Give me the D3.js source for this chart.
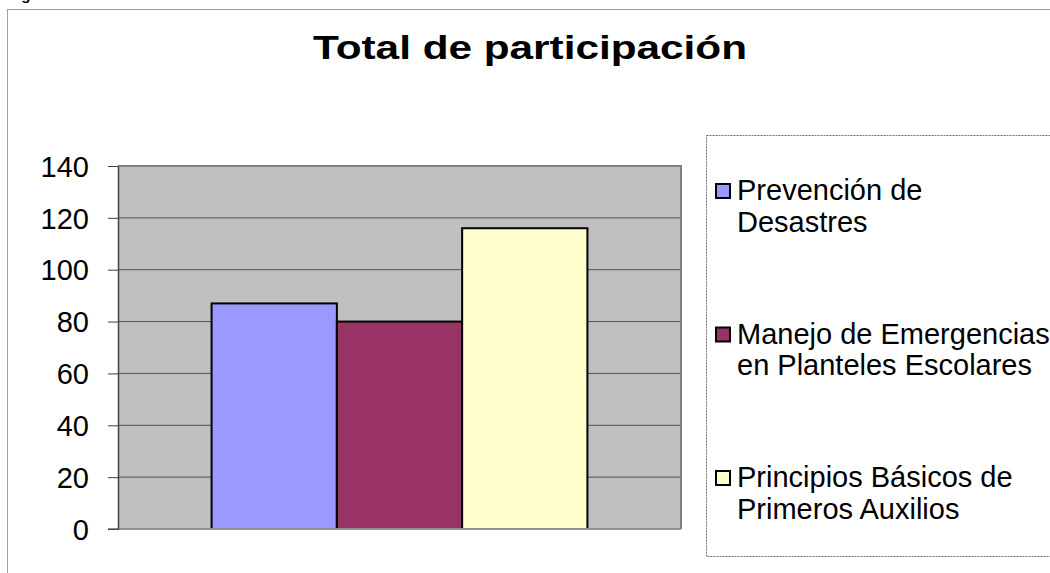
<!DOCTYPE html>
<html>
<head>
<meta charset="utf-8">
<script src="https://cdn.jsdelivr.net/npm/d3@7"></script>
<style>
  body { margin: 0; background: #fff; }
  svg { display: block; font-family: Arial, "Liberation Sans", sans-serif; }
</style>
</head>
<body>
<script>
let width = 1050;
let height = 573;

// data
let categories = [""];
let series = ["Prevención de Desastres", "Manejo de Emergencias en Planteles Escolares", "Principios Básicos de Primeros Auxilios"];
let values = [87, 80, 116];
let legendLines = [["Prevención de", "Desastres"], ["Manejo de Emergencias", "en Planteles Escolares"], ["Principios Básicos de", "Primeros Auxilios"]];
let colors = ["#9999FF", "#993366", "#FFFFCC"];
let yTicks = [0, 20, 40, 60, 80, 100, 120, 140];

let svg = d3.select("body")
    .append("svg")
    .attr("width", width)
    .attr("height", height);

// caption above the chart, cut off by the page edge (only descenders show)
svg.append("text")
    .attr("x", 8)
    .attr("y", 0)
    .attr("font-size", 15)
    .attr("font-weight", "bold")
    .text("Figura");

// outer chart frame
svg.append("rect")
    .attr("x", 7.5)
    .attr("y", 9.5)
    .attr("width", 1100)
    .attr("height", 700)
    .attr("fill", "none")
    .attr("stroke", "#a0a0a0")
    .attr("stroke-width", 1);

svg.append("text")
    .attr("x", 530)
    .attr("y", 59)
    .attr("text-anchor", "middle")
    .attr("font-size", 34)
    .attr("font-weight", "bold")
    .attr("textLength", 434)
    .attr("lengthAdjust", "spacingAndGlyphs")
    .text("Total de participación");

let plot = { left: 118, right: 681, top: 166, bottom: 529 };

let y = d3.scaleLinear()
    .domain([0, 140])
    .range([plot.bottom, plot.top]);

let x0 = d3.scaleBand()
    .domain(categories)
    .range([plot.left, plot.right])
    .paddingOuter(0.249);

let x1 = d3.scaleBand()
    .domain(series)
    .range([0, x0.bandwidth()]);

// plot background
svg.append("rect")
    .attr("x", plot.left)
    .attr("y", plot.top)
    .attr("width", plot.right - plot.left)
    .attr("height", plot.bottom - plot.top)
    .attr("fill", "#C0C0C0");

// gridlines
svg.append("g")
    .selectAll("line")
    .data(yTicks.filter(d => d > 0 && d < 140))
    .enter().append("line")
    .attr("x1", plot.left)
    .attr("x2", plot.right)
    .attr("y1", d => y(d))
    .attr("y2", d => y(d))
    .attr("stroke", "#505050")
    .attr("stroke-width", 1);

// top and right border
svg.append("path")
    .attr("d", `M${plot.left},${plot.top}H${plot.right}V${plot.bottom}`)
    .attr("fill", "none")
    .attr("stroke", "#808080")
    .attr("stroke-width", 2);

// bars
svg.append("g")
    .selectAll("rect")
    .data(series.map((s, i) => ({ s, v: values[i], c: colors[i] })))
    .enter().append("rect")
    .attr("x", d => x0(categories[0]) + x1(d.s))
    .attr("y", d => y(d.v))
    .attr("width", x1.bandwidth())
    .attr("height", d => y(0) - y(d.v))
    .attr("fill", d => d.c)
    .attr("stroke", "#000")
    .attr("stroke-width", 2);

// bottom axis line
svg.append("line")
    .attr("x1", plot.left - 10)
    .attr("x2", plot.right)
    .attr("y1", plot.bottom)
    .attr("y2", plot.bottom)
    .attr("stroke", "#909090")
    .attr("stroke-width", 2);

// y axis
let yAxis = d3.axisLeft(y)
    .tickValues(yTicks)
    .tickSize(10)
    .tickPadding(19)
    .tickSizeOuter(0);

let yg = svg.append("g")
    .attr("transform", `translate(${plot.left},0)`)
    .call(yAxis);

yg.select(".domain").attr("stroke", "#404040").attr("stroke-width", 1.5);
yg.selectAll(".tick line").attr("stroke", "#404040");
yg.selectAll(".tick text")
    .attr("font-size", 29)
    .attr("font-family", "Arial, 'Liberation Sans', sans-serif")
    .attr("fill", "#000")
    .attr("dy", "0.35em");

// legend
let legend = svg.append("g");

legend.append("rect")
    .attr("x", 706.5)
    .attr("y", 135.5)
    .attr("width", 400)
    .attr("height", 421)
    .attr("fill", "none")
    .attr("stroke", "#707070")
    .attr("stroke-width", 1)
    .attr("stroke-dasharray", "2,1");

let entryY = d3.scalePoint()
    .domain(series)
    .range([200, 487]);

let entries = legend.selectAll(".entry")
    .data(series.map((s, i) => ({ s, lines: legendLines[i], c: colors[i] })))
    .enter().append("g")
    .attr("class", "entry")
    .attr("transform", d => `translate(0,${entryY(d.s)})`);

entries.append("rect")
    .attr("x", 716)
    .attr("y", -16)
    .attr("width", 14)
    .attr("height", 14)
    .attr("fill", d => d.c)
    .attr("stroke", "#000")
    .attr("stroke-width", 2);

entries.append("text")
    .attr("x", 737)
    .attr("y", 0)
    .attr("font-size", 29)
    .selectAll("tspan")
    .data(d => d.lines)
    .enter().append("tspan")
    .attr("x", 737)
    .attr("dy", (d, i) => i === 0 ? 0 : 31.5)
    .text(d => d);
</script>
</body>
</html>
